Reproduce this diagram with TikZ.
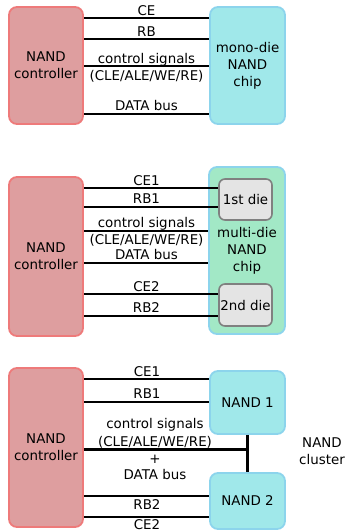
\documentclass[tikz,border=0pt]{standalone}
\usepackage{fontspec}
\setmainfont{DejaVu Sans}
\definecolor{ctrlfill}{HTML}{DE9E9F}
\definecolor{ctrldraw}{HTML}{EE7A7A}
\definecolor{chipfill}{HTML}{A0E8EA}
\definecolor{chipdraw}{HTML}{8CD4EC}
\definecolor{multifill}{HTML}{A2E8C6}
\definecolor{diefill}{HTML}{E4E4E4}
\definecolor{diedraw}{HTML}{808080}
\begin{document}
\begin{tikzpicture}[x=1pt,y=-1pt,
  font=\fontsize{13.4}{16.8}\selectfont,
  ctrl/.style={draw=ctrldraw, fill=ctrlfill, rounded corners=8pt, line width=1.8pt, align=center, inner sep=0pt, minimum width=74pt},
  chipbox/.style={draw=chipdraw, fill=chipfill, rounded corners=8pt, line width=1.8pt, align=center, inner sep=0pt, minimum width=75pt},
  multibox/.style={draw=chipdraw, fill=multifill, rounded corners=8pt, line width=1.8pt, align=center, inner sep=0pt, minimum width=76pt},
  diebox/.style={draw=diedraw, fill=diefill, rounded corners=6pt, line width=1.6pt, align=center, inner sep=0pt, minimum width=53pt},
  wire/.style={line width=2.2pt, black},
  buswire/.style={line width=3pt, black},
  lbl/.style={anchor=base, inner sep=0pt}]
\useasboundingbox (0,0) rectangle (348,531);

% ---------- panel 1 ----------
\node[ctrl, minimum height=117pt] (c1) at (46,65.5) {NAND\\controller};
\node[chipbox, minimum height=117pt] (m1) at (247.5,65.5) {mono-die\\NAND\\chip};
\draw[wire] (c1.east |- 0,18) -- (m1.west |- 0,18);
\draw[wire] (c1.east |- 0,39) -- (m1.west |- 0,39);
\draw[wire] (c1.east |- 0,66) -- (m1.west |- 0,66);
\draw[wire] (c1.east |- 0,114) -- (m1.west |- 0,114);
\node[lbl] (l1a) at (146.5,15.5) {CE};
\node[lbl] (l1b) at (146.5,36) {RB};
\node[lbl] (l1c) at (146.5,63) {control signals};
\node[lbl] (l1d) at (146.5,80) {(CLE/ALE/WE/RE)};
\node[lbl] (l1e) at (146.5,110.6) {DATA bus};

% ---------- panel 2 ----------
\node[ctrl, minimum height=159pt] (c2) at (46,256.5) {NAND\\controller};
\node[multibox, minimum height=167pt] (m2) at (247,250.5) {multi-die\\NAND\\chip};
\node[diebox, minimum height=41pt] (d1) at (245.5,199.5) {1st die};
\node[diebox, minimum height=42pt] (d2) at (245.5,305) {2nd die};
\draw[wire] (c2.east |- 0,188) -- (d1.west |- 0,188);
\draw[wire] (c2.east |- 0,207) -- (d1.west |- 0,207);
\draw[wire] (c2.east |- 0,231) -- (m2.west |- 0,231);
\draw[wire] (c2.east |- 0,263) -- (m2.west |- 0,263);
\draw[wire] (c2.east |- 0,294) -- (d2.west |- 0,294);
\draw[wire] (c2.east |- 0,316) -- (d2.west |- 0,316);
\node[lbl] (l2a) at (146.5,185) {CE1};
\node[lbl] (l2b) at (146.5,203.5) {RB1};
\node[lbl] (l2c) at (146.5,227.5) {control signals};
\node[lbl] (l2d) at (146.5,244) {(CLE/ALE/WE/RE)};
\node[lbl] (l2e) at (146.5,259.5) {DATA bus};
\node[lbl] (l2f) at (146.5,291) {CE2};
\node[lbl] (l2g) at (146.5,312) {RB2};

% ---------- panel 3 ----------
\node[ctrl, minimum height=159pt] (c3) at (46,447.5) {NAND\\controller};
\node[chipbox, minimum height=63pt] (n1) at (247.5,402.5) {NAND 1};
\node[chipbox, minimum height=56pt] (n2) at (247.5,501) {NAND 2};
\coordinate (j) at (n1.south |- 0,449);
\draw[wire] (n1.south) -- (n2.north);
\draw[buswire] (c3.east |- j) -- (j);
\draw[wire] (c3.east |- 0,379) -- (n1.west |- 0,379);
\draw[wire] (c3.east |- 0,402) -- (n1.west |- 0,402);
\draw[wire] (c3.east |- 0,496) -- (n2.west |- 0,496);
\draw[wire] (c3.east |- 0,517) -- (n2.west |- 0,517);
\node[lbl] (l3a) at (147,376) {CE1};
\node[lbl] (l3b) at (147,398.5) {RB1};
\node[lbl] (l3c) at (155,428) {control signals};
\node[lbl] (l3d) at (155,446) {(CLE/ALE/WE/RE)};
\node[lbl] (l3e) at (155,463) {+};
\node[lbl] (l3f) at (155,479) {DATA bus};
\node[lbl] (l3g) at (147,509.5) {RB2};
\node[lbl] (l3h) at (147,529) {CE2};
\node[align=center, inner sep=0pt] (cl) at (322,451) {NAND\\cluster};
\end{tikzpicture}
\end{document}
